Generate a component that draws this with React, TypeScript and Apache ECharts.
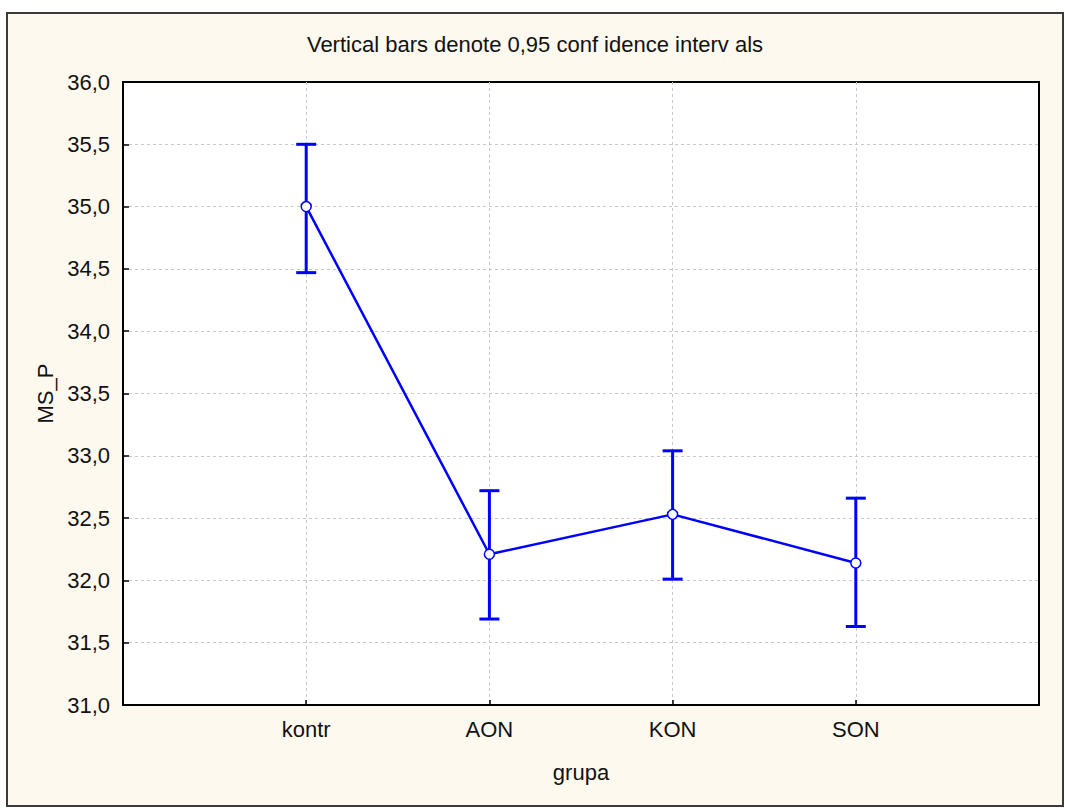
import React, { useEffect, useRef } from "react";
import * as echarts from "echarts";

const categories = ["kontr", "AON", "KON", "SON"];
const means = [35.0, 32.21, 32.53, 32.14];
const lower = [34.47, 31.69, 32.01, 31.63];
const upper = [35.5, 32.72, 33.04, 32.66];
const yTicks = [31, 31.5, 32, 32.5, 33, 33.5, 34, 34.5, 35, 35.5, 36];
const titleText = "Vertical bars denote 0,95 conf idence interv als";
const xName = "grupa";
const yName = "MS_P";

const FONT = "'Liberation Sans', Arial, sans-serif";
const BLUE = "#0000FF";

export default function App() {
  const ref = useRef<HTMLDivElement>(null);
  useEffect(() => {
    if (!ref.current) return;
    const chart = echarts.init(ref.current, undefined, { renderer: "svg" });
    const lineData = means.map((m, i) => [i + 1, m]);
    const errData = means.map((_, i) => [i + 1, lower[i], upper[i]]);
    const split = {
      show: true,
      showMinLine: false,
      showMaxLine: false,
      lineStyle: { color: "#C8C8C8", type: [3, 3], width: 1 },
    };
    chart.setOption({
      animation: false,
      backgroundColor: "#FFFFFF",
      textStyle: { fontFamily: FONT },
      graphic: [
        {
          type: "rect",
          shape: { x: 7, y: 13, width: 1056, height: 793 },
          style: { fill: "#FEF9EE", stroke: "#3a3a3a", lineWidth: 2 },
          z: -10,
        },
        {
          type: "text",
          x: 535,
          y: 44,
          style: {
            text: titleText,
            fontSize: 22,
            fontFamily: FONT,
            fill: "#111",
            textAlign: "center",
            textVerticalAlign: "middle",
          },
        },
      ],
      grid: {
        left: 123,
        top: 82,
        right: 26,
        bottom: 105,
        show: true,
        backgroundColor: "#FFFFFF",
        borderColor: "#000",
        borderWidth: 2,
      },
      xAxis: {
        type: "value",
        min: 0,
        max: 5,
        interval: 1,
        name: xName,
        nameLocation: "middle",
        nameGap: 56,
        nameTextStyle: { fontSize: 22, color: "#111", fontFamily: FONT },
        axisLine: { show: true, lineStyle: { color: "#000", width: 2 } },
        axisTick: { show: true, inside: true, length: 5, lineStyle: { color: "#000", width: 1.5 } },
        axisLabel: {
          fontSize: 22,
          color: "#111",
          margin: 13,
          formatter: (v: number) => categories[Math.round(v) - 1] ?? "",
        },
        splitLine: split,
      },
      yAxis: {
        type: "value",
        min: 31,
        max: 36,
        interval: 0.5,
        name: yName,
        nameLocation: "middle",
        nameGap: 66,
        nameTextStyle: { fontSize: 22, color: "#111", fontFamily: FONT },
        axisLine: { show: true, lineStyle: { color: "#000", width: 2 } },
        axisTick: { show: true, inside: true, length: 6, lineStyle: { color: "#000", width: 1.5 } },
        axisLabel: {
          fontSize: 22,
          color: "#111",
          margin: 13,
          formatter: (v: number) => {
            const t = yTicks.find((y) => Math.abs(y - v) < 1e-6);
            return (t ?? v).toFixed(1).replace(".", ",");
          },
        },
        splitLine: split,
      },
      series: [
        {
          type: "custom",
          z: 3,
          renderItem: (params: any, api: any) => {
            const x = api.value(0);
            const lo = api.coord([x, api.value(1)]);
            const hi = api.coord([x, api.value(2)]);
            const hw = 10;
            const st = { stroke: BLUE, lineWidth: 3, fill: "none" };
            return {
              type: "group",
              children: [
                { type: "line", shape: { x1: lo[0], y1: lo[1], x2: hi[0], y2: hi[1] }, style: st },
                { type: "line", shape: { x1: lo[0] - hw, y1: lo[1], x2: lo[0] + hw, y2: lo[1] }, style: st },
                { type: "line", shape: { x1: hi[0] - hw, y1: hi[1], x2: hi[0] + hw, y2: hi[1] }, style: st },
              ],
            };
          },
          data: errData,
          encode: { x: 0, y: [1, 2] },
        },
        {
          type: "line",
          z: 4,
          data: lineData,
          lineStyle: { color: BLUE, width: 2.5 },
          symbol: "circle",
          symbolSize: 10,
          itemStyle: { color: "#FFFFFF", borderColor: BLUE, borderWidth: 1.5 },
        },
      ],
    });
    return () => chart.dispose();
  }, []);
  return (
    <div
      ref={ref}
      style={{ position: "fixed", left: 0, top: 0, width: 1065, height: 810 }}
    />
  );
}
